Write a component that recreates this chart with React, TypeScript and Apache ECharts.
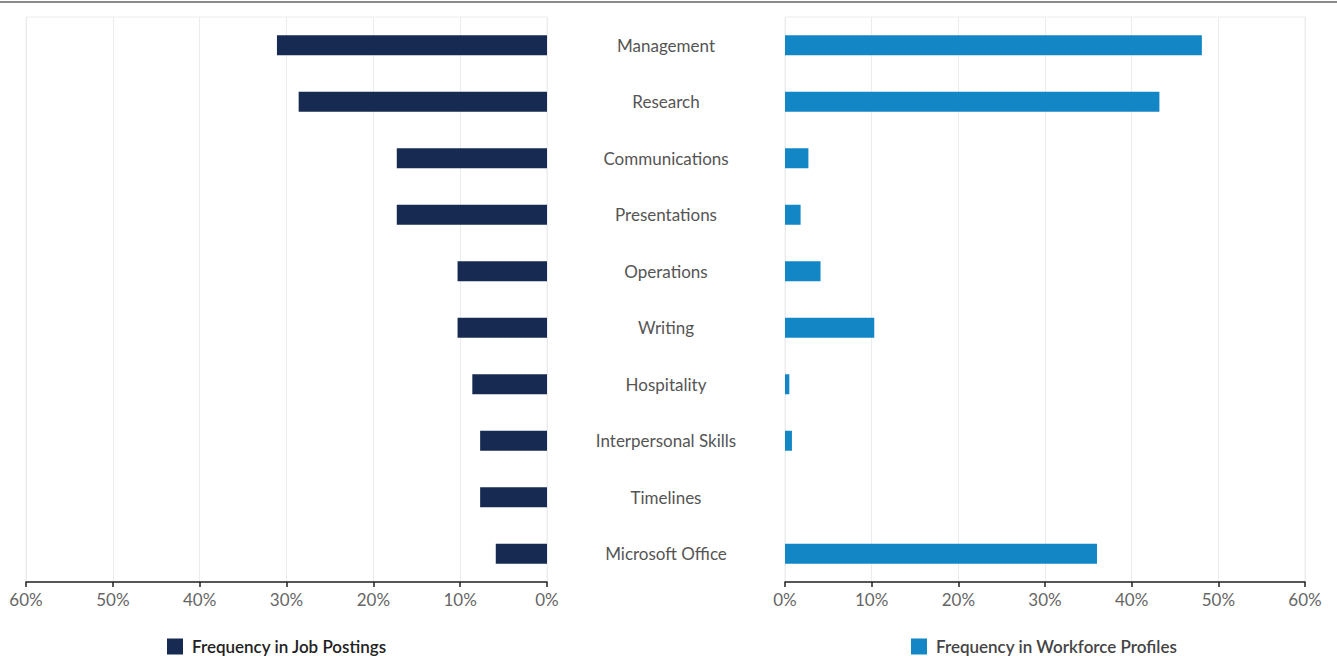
import React, { useEffect, useRef } from "react";
import * as echarts from "echarts";

const categories = [
  "Management",
  "Research",
  "Communications",
  "Presentations",
  "Operations",
  "Writing",
  "Hospitality",
  "Interpersonal Skills",
  "Timelines",
  "Microsoft Office",
];
const jobPostings = [31.1, 28.6, 17.3, 17.3, 10.3, 10.3, 8.6, 7.7, 7.7, 5.9];
const workforceProfiles = [48.1, 43.2, 2.7, 1.8, 4.1, 10.3, 0.5, 0.8, 0, 36.0];
const seriesNames = ["Frequency in Job Postings", "Frequency in Workforce Profiles"];
const colors = ["#172a51", "#1386c6"];

const FONT = "Lato, 'Open Sans', sans-serif";

export default function App() {
  const ref = useRef<HTMLDivElement>(null);
  useEffect(() => {
    if (!ref.current) return;
    const chart = echarts.init(ref.current, undefined, { renderer: "svg" });
    const xAxisCommon = {
      type: "value",
      min: 0,
      max: 60,
      interval: 10,
      axisLine: { show: true, lineStyle: { color: "#222", width: 1.5 } },
      axisTick: { show: true, length: 5, lineStyle: { color: "#222", width: 1.5 } },
      axisLabel: {
        formatter: "{value}%",
        color: "#666",
        fontSize: 17,
        fontFamily: FONT,
        margin: 9,
      },
      splitLine: { show: true, lineStyle: { color: "#ececec", width: 1 } },
    };
    const legendText = {
      fontSize: 17,
      fontWeight: 600,
      fontFamily: FONT,
      padding: [0, 0, 0, 4],
    };
    chart.setOption({
      animation: false,
      textStyle: { fontFamily: FONT },
      graphic: [
        {
          type: "line",
          shape: { x1: 0, y1: 2, x2: 1337, y2: 2 },
          style: { stroke: "#8a8a8a", lineWidth: 2 },
        },
      ],
      grid: [
        { left: 26, top: 17, width: 521, height: 565, show: true, borderColor: "#ececec", borderWidth: 1 },
        { left: 785, top: 17, width: 520, height: 565, show: true, borderColor: "#ececec", borderWidth: 1 },
      ],
      xAxis: [
        { ...xAxisCommon, gridIndex: 0, inverse: true },
        { ...xAxisCommon, gridIndex: 1 },
      ],
      yAxis: [
        {
          type: "category",
          gridIndex: 0,
          data: categories,
          inverse: true,
          position: "right",
          axisLine: { show: false },
          axisTick: { show: false },
          axisLabel: {
            show: true,
            align: "center",
            margin: 119,
            color: "#555",
            fontSize: 17,
            fontFamily: FONT,
          },
        },
        {
          type: "category",
          gridIndex: 1,
          data: categories,
          inverse: true,
          axisLine: { show: false },
          axisTick: { show: false },
          axisLabel: { show: false },
        },
      ],
      legend: [
        {
          data: [seriesNames[0]],
          left: 167,
          top: 638,
          padding: 0,
          itemWidth: 16,
          itemHeight: 16,
          icon: "rect",
          textStyle: { ...legendText, color: "#222" },
        },
        {
          data: [seriesNames[1]],
          left: 911,
          top: 638,
          padding: 0,
          itemWidth: 16,
          itemHeight: 16,
          icon: "rect",
          textStyle: { ...legendText, color: "#444" },
        },
      ],
      series: [
        {
          name: seriesNames[0],
          type: "bar",
          xAxisIndex: 0,
          yAxisIndex: 0,
          data: jobPostings,
          barWidth: 20,
          itemStyle: { color: colors[0] },
        },
        {
          name: seriesNames[1],
          type: "bar",
          xAxisIndex: 1,
          yAxisIndex: 1,
          data: workforceProfiles,
          barWidth: 20,
          itemStyle: { color: colors[1] },
        },
      ],
    });
    return () => chart.dispose();
  }, []);
  return (
    <div
      ref={ref}
      style={{ position: "fixed", left: 0, top: 0, width: 1337, height: 656, background: "#fff" }}
    />
  );
}
